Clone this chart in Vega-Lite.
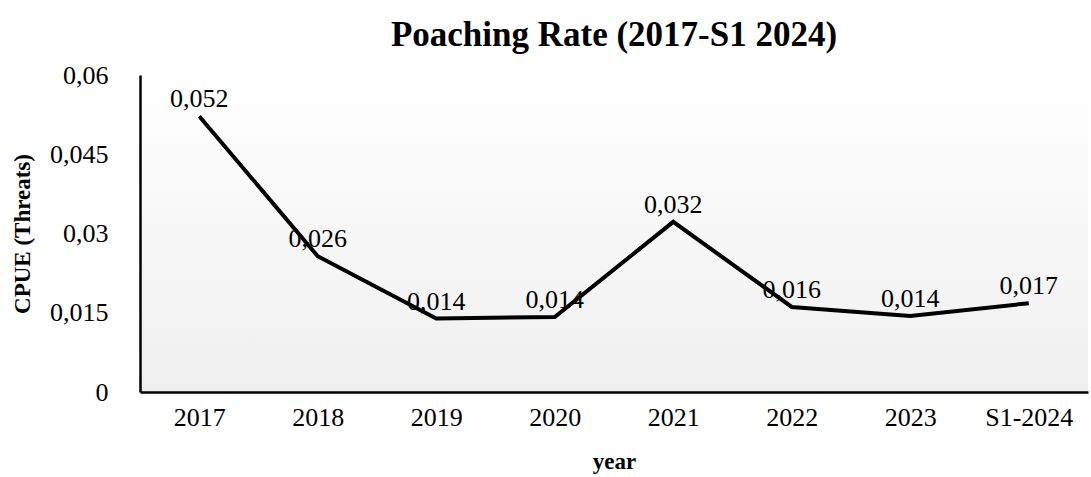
{
  "$schema": "https://vega.github.io/schema/vega-lite/v6.json",
  "width": 948,
  "height": 317,
  "autosize": {"type": "none"},
  "padding": {"left": 140, "top": 75, "right": 3, "bottom": 85},
  "background": "#ffffff",
  "title": {
    "text": "Poaching Rate (2017-S1 2024)",
    "font": "Liberation Serif",
    "fontSize": 35,
    "fontWeight": "bold",
    "color": "#000000",
    "anchor": "middle",
    "offset": 9
  },
  "data": {
    "values": [
      {"year": "2017", "cpue": 0.0522},
      {"year": "2018", "cpue": 0.0257},
      {"year": "2019", "cpue": 0.0139},
      {"year": "2020", "cpue": 0.0142},
      {"year": "2021", "cpue": 0.0322},
      {"year": "2022", "cpue": 0.0161},
      {"year": "2023", "cpue": 0.0144},
      {"year": "S1-2024", "cpue": 0.0168}
    ]
  },
  "encoding": {
    "x": {
      "field": "year",
      "type": "nominal",
      "sort": null,
      "scale": {"type": "point", "padding": 0.5},
      "axis": {
        "title": "year",
        "labelAngle": 0,
        "ticks": false,
        "grid": false,
        "domainColor": "#000000",
        "domainWidth": 2.5,
        "labelPadding": 12,
        "titlePadding": 20
      }
    },
    "y": {
      "field": "cpue",
      "type": "quantitative",
      "scale": {"domain": [0, 0.06], "nice": false},
      "axis": {
        "title": "CPUE (Threats)",
        "values": [0, 0.015, 0.03, 0.045, 0.06],
        "format": ".3~f",
        "ticks": false,
        "grid": false,
        "domainColor": "#000000",
        "domainWidth": 2.5,
        "labelPadding": 32,
        "titlePadding": 15
      }
    }
  },
  "layer": [
    {
      "mark": {"type": "line", "color": "#000000", "strokeWidth": 4}
    },
    {
      "mark": {
        "type": "text",
        "dy": -17,
        "baseline": "middle",
        "font": "Liberation Serif",
        "fontSize": 26,
        "color": "#000000"
      },
      "encoding": {
        "text": {"field": "cpue", "type": "quantitative", "format": ".3f"}
      }
    }
  ],
  "config": {
    "locale": {
      "number": {"decimal": ",", "thousands": ".", "grouping": [3], "currency": ["", " €"]}
    },
    "text": {"font": "Liberation Serif"},
    "view": {
      "stroke": null,
      "fill": {
        "gradient": "linear",
        "x1": 0, "y1": 0, "x2": 0, "y2": 1,
        "stops": [
          {"offset": 0, "color": "#ffffff"},
          {"offset": 1, "color": "#efefef"}
        ]
      }
    },
    "axis": {
      "labelFont": "Liberation Serif",
      "labelFontSize": 26,
      "labelColor": "#000000",
      "titleFont": "Liberation Serif",
      "titleFontSize": 23,
      "titleFontWeight": "bold",
      "titleColor": "#000000"
    }
  }
}
